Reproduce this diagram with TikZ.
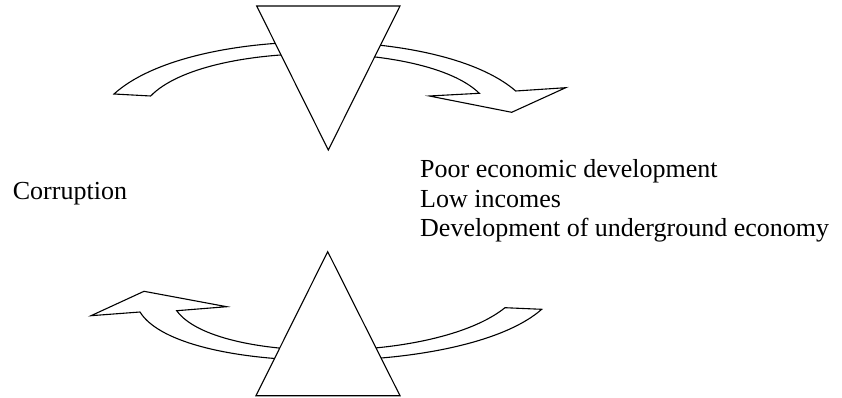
\documentclass[tikz,border=0pt]{standalone}
\usepackage{fontspec}
\setmainfont{Liberation Serif}
\tikzset{
  outline/.style={draw=black, fill=white, line width=1.1pt, line join=miter},
  labeltext/.style={font=\fontsize{26}{30}\selectfont, inner sep=0pt, anchor=base west}
}
\begin{document}
\begin{tikzpicture}[x=1pt, y=-1pt]
  \useasboundingbox (0,0) rectangle (842,398);
  % Upper curved arrow
  \filldraw[outline] (114,94) .. controls (190,25) and (440,25) .. (515.7,91)
      -- (565.7,87.7) -- (511.7,112.3) -- (429.3,96) -- (479.3,93.3)
      .. controls (425,40) and (205,40) .. (150.7,96) -- cycle;
  % Lower curved arrow
  \filldraw[outline] (541.7,309.3) .. controls (465,377) and (180,377) .. (140,312)
      -- (91,315.7) -- (144,291.3) -- (226.7,306.7) -- (176.7,310.7)
      .. controls (215,364) and (435,364) .. (505,307.7) -- cycle;
  % Triangles
  \filldraw[outline] (256.7,6) -- (400,6) -- (328.3,150) -- cycle;
  \filldraw[outline] (327.7,251.7) -- (400,395.7) -- (256,395.7) -- cycle;
  % Labels
  \node[labeltext] (corruption) at (12.7,199) {Corruption};
  \foreach \name/\y/\txt in {poor/177.5/Poor economic development,
                             low/207/Low incomes,
                             underground/236.5/Development of underground economy}
      \node[labeltext] (\name) at (420,\y) {\txt};
\end{tikzpicture}
\end{document}
